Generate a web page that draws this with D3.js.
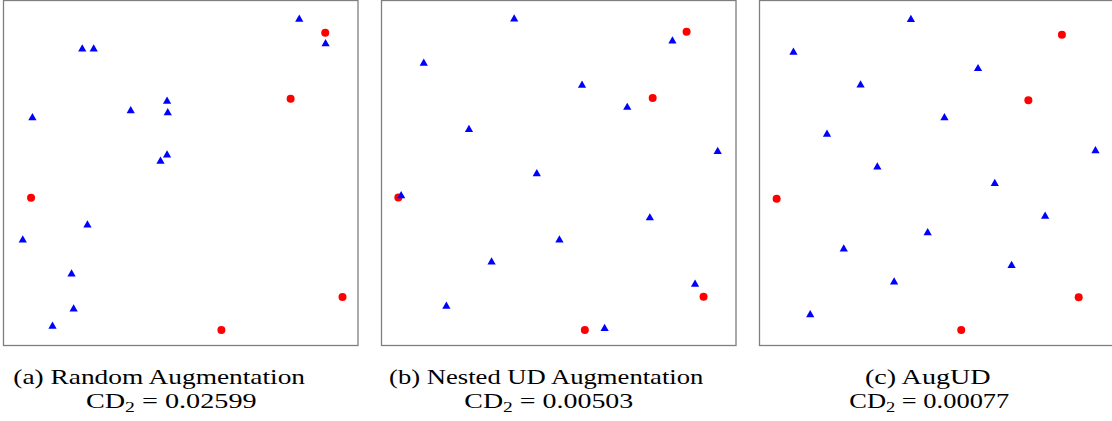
<!DOCTYPE html>
<html>
<head>
<meta charset="utf-8">
<script src="https://cdn.jsdelivr.net/npm/d3@7"></script>
<style>
  html, body { margin: 0; padding: 0; background: #fff; }
  svg { display: block; }
</style>
</head>
<body>
<svg id="chart" width="1112" height="421"></svg>
<script>
// Original five runs (shared by all three augmented designs)
const baseX = [0.875, 0.775, 0.025, 0.925, 0.575];
const baseY = [0.925, 0.725, 0.425, 0.125, 0.025];

// (a) fifteen randomly added runs
const randomX = [0.800, 0.876, 0.173, 0.206, 0.418, 0.313, 0.420, 0.029, 0.418, 0.399, 0.188, 0.001, 0.142, 0.148, 0.087];
const randomY = [0.969, 0.895, 0.879, 0.879, 0.721, 0.692, 0.686, 0.671, 0.558, 0.539, 0.346, 0.301, 0.198, 0.092, 0.040];

// (b) nested uniform design runs (15 levels)
const nestedX = [0.3667, 0.8333, 0.1000, 0.5667, 0.7000, 0.2333, 0.9667, 0.4333, 0.0333, 0.7667, 0.5000, 0.3000, 0.9000, 0.1667, 0.6333];
const nestedY = [0.9667, 0.9000, 0.8333, 0.7667, 0.7000, 0.6333, 0.5667, 0.5000, 0.4333, 0.3667, 0.3000, 0.2333, 0.1667, 0.1000, 0.0333];

// (c) AugUD runs (20 levels together with the original runs)
const augudX = [0.425, 0.075, 0.625, 0.275, 0.525, 0.175, 0.975, 0.325, 0.675, 0.825, 0.475, 0.225, 0.725, 0.375, 0.125];
const augudY = [0.975, 0.875, 0.825, 0.775, 0.675, 0.625, 0.575, 0.525, 0.475, 0.375, 0.325, 0.275, 0.225, 0.175, 0.075];

// Axis limits of each panel
const xLimits = [[-0.0546, 0.9697], [-0.0246, 1.0207], [-0.0261, 1.0302]];
const yLimits = [[-0.0219, 1.0223], [-0.0217, 1.0190], [-0.0222, 1.0292]];

// Captions
const captionTitles = ["(a) Random Augmentation", "(b) Nested UD Augmentation", "(c) AugUD"];
const cd2Values = ["0.02599", "0.00503", "0.00077"];

const addedX = [randomX, nestedX, augudX];
const addedY = [randomY, nestedY, augudY];

const svg = d3.select("#chart");

const panelLeft = 3.5, panelStride = 378, panelW = 354.5;
const panelTop = 0.5, panelH = 345;

// Upward triangle centred on its bounding box (like a "^" marker)
const triangleUp = {
  draw(context, size) {
    const w = Math.sqrt(size);
    const h = w * 0.875;
    context.moveTo(0, -h / 2);
    context.lineTo(w / 2, h / 2);
    context.lineTo(-w / 2, h / 2);
    context.closePath();
  }
};

for (let i = 0; i < 3; i++) {
  const x0 = panelLeft + i * panelStride;
  const x = d3.scaleLinear().domain(xLimits[i]).range([x0, x0 + panelW]);
  const y = d3.scaleLinear().domain(yLimits[i]).range([panelTop + panelH, panelTop]);

  const g = svg.append("g");

  const clipId = "clip" + i;
  g.append("clipPath").attr("id", clipId)
    .append("rect")
    .attr("x", x0).attr("y", panelTop)
    .attr("width", panelW).attr("height", panelH);

  const marks = g.append("g").attr("clip-path", `url(#${clipId})`);

  // original runs: red circles
  marks.selectAll("circle")
    .data(d3.range(baseX.length))
    .join("circle")
    .attr("cx", k => x(baseX[k]))
    .attr("cy", k => y(baseY[k]))
    .attr("r", 4)
    .attr("fill", "#ff0000");

  // added runs: blue triangles
  marks.selectAll("path.tri")
    .data(d3.range(addedX[i].length))
    .join("path")
    .attr("class", "tri")
    .attr("transform", k => `translate(${x(addedX[i][k])},${y(addedY[i][k])})`)
    .attr("d", d3.symbol().type(triangleUp).size(68))
    .attr("fill", "#0000ff");

  // frame
  g.append("rect")
    .attr("x", x0).attr("y", panelTop)
    .attr("width", panelW).attr("height", panelH)
    .attr("fill", "none")
    .attr("stroke", "#7f7f7f")
    .attr("stroke-width", 1.3);
}

// Captions under each panel
const titleCenters = [159.2, 546.2, 927.8];
const titleWidths = [291.7, 314.3, 125.7];
const cdCenters = [171.3, 548.8, 929.3];
const cdWidths = [170.7, 169, 160];

const font = "'Liberation Serif', 'DejaVu Serif', serif";

captionTitles.forEach((t, i) => {
  svg.append("text")
    .attr("x", titleCenters[i])
    .attr("y", 383.5)
    .attr("text-anchor", "middle")
    .attr("font-family", font)
    .attr("font-size", 21.5)
    .attr("fill", "#000")
    .attr("textLength", titleWidths[i])
    .attr("lengthAdjust", "spacingAndGlyphs")
    .text(t);

  const cd = svg.append("text")
    .attr("x", cdCenters[i])
    .attr("y", 408)
    .attr("text-anchor", "middle")
    .attr("font-family", font)
    .attr("font-size", 21.5)
    .attr("fill", "#000")
    .attr("textLength", cdWidths[i])
    .attr("lengthAdjust", "spacingAndGlyphs");
  cd.append("tspan").text("CD");
  cd.append("tspan").attr("font-size", 15).attr("dy", 3.5).text("2");
  cd.append("tspan").attr("dy", -3.5).text(" = 0." + cd2Values[i].slice(2));
});
</script>
</body>
</html>
